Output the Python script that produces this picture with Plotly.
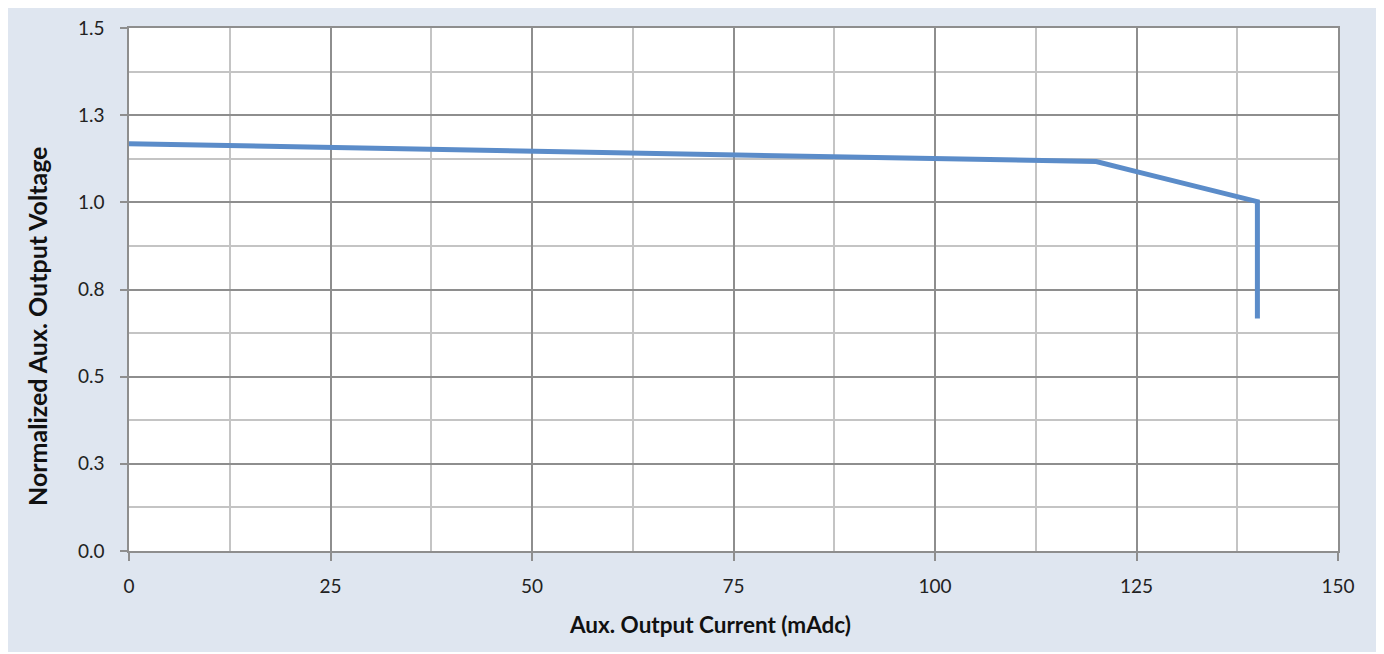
import plotly.graph_objects as go

current_ma = [0, 25, 50, 75, 100, 120, 125, 130, 135, 140, 140]
norm_voltage = [1.168, 1.158, 1.147, 1.137, 1.125, 1.117, 1.088, 1.059, 1.030, 1.002, 0.667]

y_tickvals = [0, 0.25, 0.5, 0.75, 1.0, 1.25, 1.5]
y_ticktext = ["0.0", "0.3", "0.5", "0.8", "1.0", "1.3", "1.5"]
x_tickvals = [0, 25, 50, 75, 100, 125, 150]

x_title = "Aux. Output Current (mAdc)"
y_title = "Normalized Aux. Output Voltage"

FONT = "Lato, 'Open Sans', sans-serif"
MAJOR = "#8e8e8e"
MINOR = "#c4c4c4"

# page body has an 8px margin; plot area targeted at page px x 129..1338, y 28..551
L, R, T, B = 121, 54, 20, 111
PW, PH = 1384 - L - R, 654 - T - B

fig = go.Figure()
fig.add_trace(go.Scatter(
    x=current_ma, y=norm_voltage, mode="lines",
    line=dict(color="#5b8cc9", width=5),
    hoverinfo="x+y", showlegend=False,
))

fig.update_layout(
    width=1384, height=654,
    paper_bgcolor="white",
    plot_bgcolor="white",
    margin=dict(l=L, r=R, t=T, b=B, autoexpand=False),
    font=dict(family=FONT, color="#222222", size=19),
    shapes=[
        dict(type="rect", xref="paper", yref="paper", layer="below",
             x0=-L / PW, x1=1 + 39 / PW, y0=-(B - 10) / PH, y1=1 + T / PH,
             fillcolor="#dfe6f0", line=dict(width=0)),
        dict(type="rect", xref="paper", yref="paper", layer="below",
             x0=0, x1=1, y0=0, y1=1,
             fillcolor="white", line=dict(width=0)),
    ],
    annotations=[
        dict(text=f"<b>{x_title}</b>", xref="paper", yref="paper",
             x=(710 - 129) / PW, y=-(624 - 551) / PH,
             xanchor="center", yanchor="middle", showarrow=False,
             font=dict(size=22.5, family=FONT, color="#111111")),
        dict(text=f"<b>{y_title}</b>", xref="paper", yref="paper",
             x=-(129 - 37) / PW, y=(551 - 327) / PH, textangle=-90,
             xanchor="center", yanchor="middle", showarrow=False,
             font=dict(size=25, family=FONT, color="#111111")),
    ],
)

fig.update_xaxes(
    range=[0, 150], tickvals=x_tickvals, ticktext=[str(v) for v in x_tickvals],
    showgrid=True, gridcolor=MAJOR, gridwidth=1.5,
    minor=dict(dtick=12.5, tick0=0, showgrid=True, gridcolor=MINOR, gridwidth=1.5),
    ticks="outside", ticklen=8, tickcolor=MAJOR, tickwidth=1.5,
    ticklabelstandoff=9,
    showline=True, linecolor=MAJOR, linewidth=1.5, mirror=True,
    zeroline=False,
    tickfont=dict(size=19, family=FONT, color="#222222"),
)
fig.update_yaxes(
    range=[0, 1.5], tickvals=y_tickvals, ticktext=y_ticktext,
    showgrid=True, gridcolor=MAJOR, gridwidth=1.5,
    minor=dict(dtick=0.125, tick0=0, showgrid=True, gridcolor=MINOR, gridwidth=1.5),
    ticks="outside", ticklen=7, tickcolor=MAJOR, tickwidth=1.5,
    ticklabelstandoff=12,
    showline=True, linecolor=MAJOR, linewidth=1.5, mirror=True,
    zeroline=False,
    tickfont=dict(size=19, family=FONT, color="#222222"),
)

fig.write_html("out.html")
